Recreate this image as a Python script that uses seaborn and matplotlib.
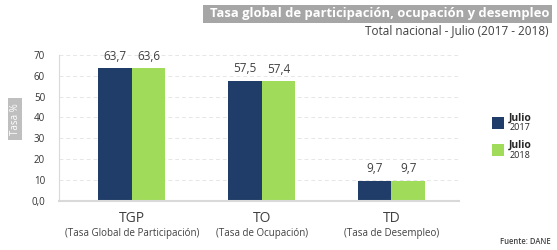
import matplotlib
matplotlib.use("Agg")
import matplotlib.pyplot as plt
import seaborn as sns
import pandas as pd
from matplotlib.patches import Rectangle

categories = ["TGP", "TO", "TD"]
cat_names = ["(Tasa Global de Participación)", "(Tasa de Ocupación)", "(Tasa de Desempleo)"]
julio_2017 = [63.7, 57.5, 9.7]
julio_2018 = [63.6, 57.4, 9.7]
years = ["2017", "2018"]
yticks = [0, 10, 20, 30, 40, 50, 60, 70]

df = pd.DataFrame({
    "cat": categories * 2,
    "year": [years[0]] * 3 + [years[1]] * 3,
    "value": julio_2017 + julio_2018,
})

sns.set_style("white")
plt.rcParams["font.family"] = ["Open Sans", "DejaVu Sans"]

colors = ["#1f3d68", "#a0dc5a"]

fig = plt.figure(figsize = (5.57, 2.5), dpi = 100)
ax = fig.add_axes([59 / 557, 49.3 / 250, 400 / 557, 145.7 / 250])

sns.barplot(data = df, x = "cat", y = "value", hue = "year", palette = colors,
            width = 0.52, ax = ax, legend = False, saturation = 1, linewidth = 0)

for container in ax.containers:
    ax.bar_label(container, labels = [f"{v:.1f}".replace(".", ",") for v in container.datavalues],
                 padding = 4, fontsize = 8.5, color = "#404040")

ax.set_xlim(-0.56, 2.52)
ax.set_ylim(0, 70)
ax.set_yticks(yticks)
ax.set_yticklabels(["0,0"] + [str(t) for t in yticks[1:]], fontsize = 7, color = "#333333")
ax.tick_params(axis = "y", length = 0, pad = 10)
ax.set_xticks([])
ax.set_xlabel("")
ax.set_ylabel("")
ax.yaxis.grid(True, linestyle = (0, (4, 3)), color = "#e6e6e6", linewidth = 0.7)
ax.set_axisbelow(True)
for s in ["top", "right"]:
    ax.spines[s].set_visible(False)
ax.spines["left"].set_color("#d9d9d9")
ax.spines["bottom"].set_color("#d9d9d9")
ax.spines["bottom"].set_linewidth(1.5)

# category labels under axis
for i, (c, n) in enumerate(zip(categories, cat_names)):
    ax.text(i, -4.8, c, ha = "center", va = "top", fontsize = 10, color = "#404040",
            transform = ax.transData, clip_on = False)
    ax.text(i, -13.0, n, ha = "center", va = "top", fontsize = 7, color = "#404040",
            transform = ax.transData, clip_on = False)

# y label box
fig.patches.append(Rectangle((8 / 557, 1 - 140 / 250), 14 / 557, 42 / 250,
                             transform = fig.transFigure, facecolor = "#bfbfbf",
                             edgecolor = "none"))
fig.text(15 / 557, 1 - 119 / 250, "Tasa %", rotation = 90, ha = "center", va = "center",
         fontsize = 7, color = "white")

# title
fig.patches.append(Rectangle((203 / 557, 1 - 23 / 250), 349 / 557, 18 / 250,
                             transform = fig.transFigure, facecolor = "#a6a6a6",
                             edgecolor = "none"))
fig.text(549 / 557, 1 - 14 / 250, "Tasa global de participación, ocupación y desempleo",
         ha = "right", va = "center", fontsize = 9.4, fontweight = "bold", color = "white")
fig.text(549 / 557, 1 - 31 / 250, "Total nacional - Julio (2017 - 2018)",
         ha = "right", va = "center", fontsize = 8.5, color = "#404040")

# legend
for k, (col, yr) in enumerate(zip(colors, years)):
    y0 = 117 + k * 27
    fig.patches.append(Rectangle((492 / 557, 1 - (y0 + 12) / 250), 12 / 557, 12 / 250,
                                 transform = fig.transFigure, facecolor = col,
                                 edgecolor = "none"))
    fig.text(509 / 557, 1 - (y0 + 1) / 250, "Julio", ha = "left", va = "center",
             fontsize = 7.5, fontweight = "bold", color = "#262626")
    fig.text(510 / 557, 1 - (y0 + 11) / 250, yr, ha = "left", va = "center",
             fontsize = 6.5, color = "#262626")

fig.text(551 / 557, 1 - 242 / 250, "Fuente: DANE", ha = "right", va = "center",
         fontsize = 5.5, fontweight = "semibold", color = "#404040")

fig.savefig("out.png", dpi = 100)
